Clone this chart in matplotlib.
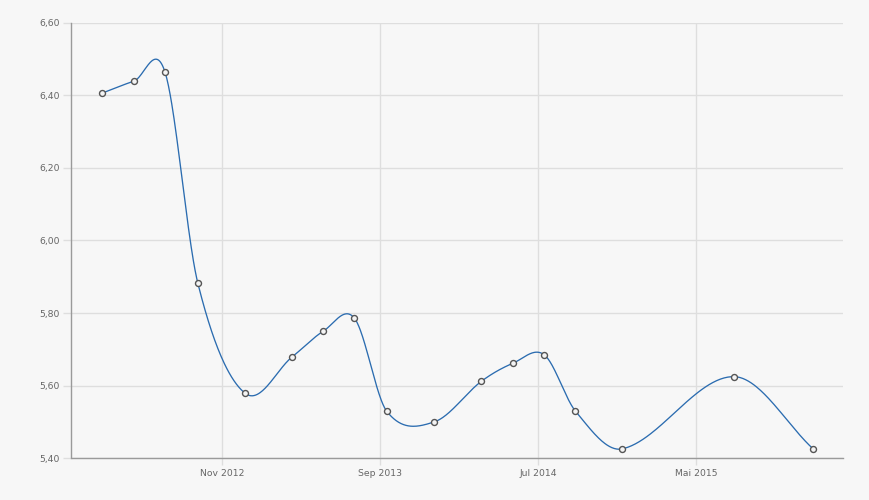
import numpy as np
import pandas as pd
import matplotlib
matplotlib.use("Agg")
import matplotlib.pyplot as plt
import matplotlib.dates as mdates
from matplotlib.ticker import FuncFormatter, FixedLocator

# ---- data ----
dates = ["2012-03-15", "2012-05-15", "2012-07-14", "2012-09-15", "2012-12-15",
         "2013-03-15", "2013-05-14", "2013-07-13", "2013-09-13", "2013-12-13",
         "2014-03-14", "2014-05-14", "2014-07-13", "2014-09-11", "2014-12-10",
         "2015-07-12", "2015-12-12"]
values = [6.406, 6.439, 6.463, 5.882, 5.579,
          5.679, 5.750, 5.786, 5.530, 5.500,
          5.612, 5.662, 5.685, 5.530, 5.426,
          5.625, 5.426]
xtick_dates = ["2012-11-01", "2013-09-01", "2014-07-01", "2015-05-01"]
xtick_labels = ["Nov 2012", "Sep 2013", "Jul 2014", "Mai 2015"]
yticks = [5.40, 5.60, 5.80, 6.00, 6.20, 6.40, 6.60]

# ---- style ----
bg = "#f7f7f7"
grid_c = "#dedede"
axis_c = "#9a9a9a"
text_c = "#666666"
line_c = "#2b6cb0"

x = mdates.date2num(pd.to_datetime(dates))
y = np.array(values)

# Catmull-Rom style Hermite spline (non-uniform x)
n = len(x)
m = np.zeros(n)
m[0] = (y[1] - y[0]) / (x[1] - x[0])
m[-1] = (y[-1] - y[-2]) / (x[-1] - x[-2])
for i in range(1, n - 1):
    m[i] = (y[i + 1] - y[i - 1]) / (x[i + 1] - x[i - 1])
xs, ys = [], []
for i in range(n - 1):
    h = x[i + 1] - x[i]
    t = np.linspace(0, 1, 60)
    h00 = 2 * t**3 - 3 * t**2 + 1
    h10 = t**3 - 2 * t**2 + t
    h01 = -2 * t**3 + 3 * t**2
    h11 = t**3 - t**2
    xs.append(x[i] + t * h)
    ys.append(h00 * y[i] + h10 * h * m[i] + h01 * y[i + 1] + h11 * h * m[i + 1])
xs = np.concatenate(xs)
ys = np.concatenate(ys)

fig = plt.figure(figsize=(8.7, 5.0), dpi=100, facecolor=bg)
ax = fig.add_axes([71.5 / 870, 1 - 458.3 / 500, (843.3 - 71.5) / 870, (458.3 - 22.7) / 500])
ax.set_facecolor(bg)

ax.plot(xs, ys, color=line_c, lw=0.95, zorder=3)
ax.plot(x, y, linestyle="none", marker="o", ms=4.3, mfc="#f4f4f4", mec="#555555",
        mew=1.0, zorder=4)

ax.set_xlim(mdates.date2num(pd.Timestamp("2012-01-16")), mdates.date2num(pd.Timestamp("2016-02-08")))
ax.set_ylim(5.40, 6.60)

ax.xaxis.set_major_locator(FixedLocator(mdates.date2num(pd.to_datetime(xtick_dates))))
ax.set_xticklabels(xtick_labels)
ax.set_yticks(yticks)
ax.yaxis.set_major_formatter(FuncFormatter(lambda v, p: f"{v:.2f}".replace(".", ",")))

ax.grid(True, color=grid_c, lw=1.0, zorder=0)
ax.set_axisbelow(True)
for s in ["top", "right"]:
    ax.spines[s].set_visible(False)
for s in ["left", "bottom"]:
    ax.spines[s].set_color(axis_c)
    ax.spines[s].set_linewidth(1.0)

ax.tick_params(axis="both", colors=grid_c, labelcolor=text_c, labelsize=6.7, width=1.0)
ax.tick_params(axis="y", length=6, pad=2.5)
ax.tick_params(axis="x", length=5, pad=2.5)

fig.savefig("out.png", dpi=100, facecolor=bg)
